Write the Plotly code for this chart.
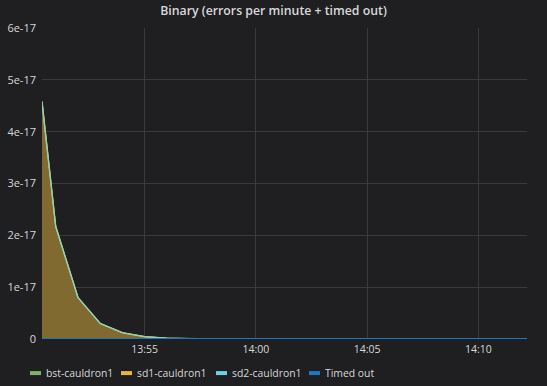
import plotly.graph_objects as go

day = "2018-01-01 "
times = ["13:50:23", "13:51:00", "13:52:00", "13:53:00", "13:54:00", "13:55:00",
         "13:56:00", "13:57:00", "13:58:00", "13:59:00", "14:00:00", "14:01:00",
         "14:02:00", "14:03:00", "14:04:00", "14:05:00", "14:06:00", "14:07:00",
         "14:08:00", "14:09:00", "14:10:00", "14:11:00", "14:12:00", "14:12:11"]
errors = [4.58e-17, 2.17e-17, 0.80e-17, 0.30e-17, 0.12e-17, 0.045e-17,
          0.015e-17, 0.005e-17, 0, 0, 0, 0, 0, 0, 0, 0, 0, 0, 0, 0, 0, 0, 0, 0]
timed_out = [0] * len(times)
x = [day + t for t in times]

series = ["bst-cauldron1", "sd1-cauldron1", "sd2-cauldron1", "Timed out"]
colors = ["#7EB26D", "#EAB839", "#6ED0E0", "#1F78C1"]
ytickvals = [0, 1e-17, 2e-17, 3e-17, 4e-17, 5e-17, 6e-17]
yticktext = ["0", "1e-17", "2e-17", "3e-17", "4e-17", "5e-17", "6e-17"]
xtickvals = ["13:55", "14:00", "14:05", "14:10"]

BG = "#1f1e20"
TXT = "#d8d9da"
W, H = 547, 386
L, R, T, B = 42, 20, 27.5, 47.3
PW, PH = W - L - R, H - T - B

fig = go.Figure()
# stacked-area fill
fig.add_trace(go.Scatter(x=x, y=errors, mode="lines", showlegend=False, hoverinfo="skip",
                         line=dict(width=0, color="rgba(0,0,0,0)"),
                         fill="tozeroy", fillcolor="rgb(128,106,48)"))
fig.add_trace(go.Scatter(x=x, y=errors, name=series[0], mode="lines", showlegend=False,
                         line=dict(color=colors[0], width=1.5)))
fig.add_trace(go.Scatter(x=x, y=errors, name=series[1], mode="lines", showlegend=False,
                         line=dict(color=colors[1], width=1)))
fig.add_trace(go.Scatter(x=x, y=errors, name=series[2], mode="lines", showlegend=False,
                         line=dict(color="#8fd0c8", width=1.2)))
fig.add_trace(go.Scatter(x=x, y=timed_out, name=series[3], mode="lines", showlegend=False,
                         line=dict(color=colors[3], width=2.2)))

# manual legend (Grafana style: short thick swatch + label)
leg_y_px = 372.8
swatch_x = [30, 121, 216, 309]
shapes, annots = [], []
for name, col, sx in zip(series, colors, swatch_x):
    x0 = (sx - L) / PW
    x1 = (sx + 11 - L) / PW
    yy = (H - B - leg_y_px) / PH
    shapes.append(dict(type="line", xref="paper", yref="paper", x0=x0, x1=x1, y0=yy, y1=yy,
                       line=dict(color=col, width=4)))
    annots.append(dict(text=name, xref="paper", yref="paper", x=(sx + 14 - L) / PW, y=yy,
                       xanchor="left", yanchor="middle", showarrow=False,
                       font=dict(size=10.4, color=TXT)))

fig.update_layout(
    width=W, height=H,
    paper_bgcolor=BG, plot_bgcolor=BG,
    margin=dict(l=L, r=R, t=T, b=B, autoexpand=False),
    font=dict(family="Open Sans", color=TXT, size=11),
    title=dict(text="Binary (errors per minute + timed out)", x=0.5, xanchor="center",
               y=1 - 10.5 / H, yanchor="middle", font=dict(size=12.3, color=TXT, weight=600)),
    showlegend=False,
    shapes=shapes, annotations=annots,
)
fig.update_xaxes(range=[day + "13:50:23", day + "14:12:11"],
                 tickvals=[day + t for t in xtickvals], ticktext=xtickvals,
                 showgrid=True, gridcolor="#3a3a3c", gridwidth=1, automargin=False,
                 zeroline=False, showline=False, ticks="", ticklabelstandoff=2,
                 tickfont=dict(size=10.5, color=TXT))
fig.update_yaxes(range=[0, 6e-17], tickvals=ytickvals, ticktext=yticktext,
                 showgrid=True, gridcolor="#3a3a3c", gridwidth=1, automargin=False,
                 zeroline=False, showline=False, ticks="", ticklabelstandoff=5,
                 tickfont=dict(size=11, color=TXT))

fig.write_html("out.html")
